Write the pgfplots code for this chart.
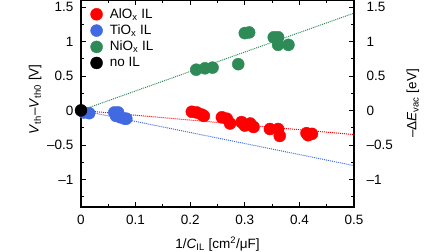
\documentclass[border=0pt]{standalone}
\usepackage{pgfplots}
\pgfplotsset{compat=1.18}
\usepackage{fontspec}
\setmainfont{Liberation Sans}
\definecolor{cred}{RGB}{255,0,0}
\definecolor{cblue}{RGB}{65,105,225}
\definecolor{cgreen}{RGB}{46,139,87}
\newcommand{\fs}{\fontsize{13.5}{15}\selectfont}
\begin{document}
\begin{tikzpicture}
\fs
\path[use as bounding box] (0,0) rectangle (448pt,252pt);
\begin{axis}[
  at={(81pt,45pt)}, anchor=south west,
  scale only axis, width=273pt, height=207pt,
  xmin=0, xmax=0.5, ymin=-1.4, ymax=1.6,
  axis line style={line width=1.3pt},
  xtick={0,0.1,0.2,0.3,0.4,0.5},
  xticklabels={0,0.1,0.2,0.3,0.4,0.5},
  minor xtick={0.05,0.15,0.25,0.35,0.45},
  ytick={-1,-0.5,0,0.5,1,1.5},
  yticklabels={\textendash1,\textendash0.5,0,0.5,1,1.5},
  minor ytick={-1.25,-0.75,-0.25,0.25,0.75,1.25},
  tick align=inside,
  major tick length=5pt, minor tick length=3pt,
  tick style={black, line width=0.8pt},
  ticklabel style={font=\fs},
  xticklabel style={yshift=-3pt},
  yticklabel style={xshift=-3pt},
  xlabel={1/\textit{C}\textsubscript{IL} [cm\textsuperscript{2}/μF]},
  ylabel={\textit{V}\textsubscript{th}\textendash\textit{V}\textsubscript{th0} [V]},
  x label style={at={(axis description cs:0.5,-0.18)}, anchor=center, font=\fs},
  y label style={at={(axis description cs:-0.168,0.52)}, anchor=center, font=\fs},
  legend style={draw=none, fill=none, at={(0.03,0.975)}, anchor=north west,
    font=\fs, row sep=0.5pt, inner sep=1pt},
  legend cell align=left,
  legend image code/.code={\path (-6pt,0) (11pt,0); \draw[#1] plot coordinates {(0pt,0pt)};},
]
\addplot[only marks, mark=*, mark size=6pt, color=cred, mark options={draw=cred, fill=cred}] coordinates {
(0.203,-0.02) (0.212,-0.03) (0.221,-0.06) (0.225,-0.08)
(0.258,-0.10) (0.267,-0.12) (0.273,-0.19) (0.294,-0.17)
(0.300,-0.22) (0.310,-0.19) (0.316,-0.24) (0.346,-0.27)
(0.361,-0.27) (0.364,-0.37) (0.413,-0.33) (0.423,-0.34) (0.416,-0.36)
};
\addlegendentry{AlO\textsubscript{x} IL}
\addplot[only marks, mark=*, mark size=6pt, color=cblue, mark options={draw=cblue, fill=cblue}] coordinates {
(0.005,-0.03) (0.015,-0.04) (0.061,-0.03) (0.068,-0.03) (0.064,-0.08) (0.072,-0.10) (0.080,-0.12) (0.083,-0.12)
};
\addlegendentry{TiO\textsubscript{x} IL}
\addplot[only marks, mark=*, mark size=6pt, color=cgreen, mark options={draw=cgreen, fill=cgreen}] coordinates {
(0.211,0.59) (0.227,0.61) (0.241,0.62) (0.288,0.67)
(0.300,1.12) (0.308,1.13) (0.353,1.06) (0.361,1.06) (0.361,0.95) (0.380,0.95)
};
\addlegendentry{NiO\textsubscript{x} IL}
\addplot[forget plot, densely dotted, line width=1pt, color=cgreen] coordinates {(0,0) (0.5,1.41)};
\addplot[forget plot, densely dotted, line width=1pt, color=cred] coordinates {(0,0) (0.5,-0.35)};
\addplot[forget plot, densely dotted, line width=1pt, color=cblue] coordinates {(0,0) (0.5,-0.80)};
\addplot[only marks, mark=*, mark size=6pt, color=black, mark options={draw=black, fill=black}] coordinates {(0,0)};
\addlegendentry{no IL}
\end{axis}
\begin{axis}[
  at={(81pt,45pt)}, anchor=south west,
  scale only axis, width=273pt, height=207pt,
  xmin=0, xmax=0.5, ymin=-1.4, ymax=1.6,
  axis x line=none, axis y line*=right,
  axis line style={line width=1.3pt},
  ytick={-1,-0.5,0,0.5,1,1.5},
  yticklabels={\textendash1,\textendash0.5,0,0.5,1,1.5},
  major tick length=0pt,
  yticklabel style={font=\fs, anchor=west, xshift=8pt},
  ylabel={\textendash Δ\textit{E}\textsubscript{vac} [eV]},
  y label style={at={(axis description cs:1.216,0.5)}, anchor=center, font=\fs},
]
\addplot[draw=none, forget plot] coordinates {(0,0)};
\end{axis}
\end{tikzpicture}
\end{document}
